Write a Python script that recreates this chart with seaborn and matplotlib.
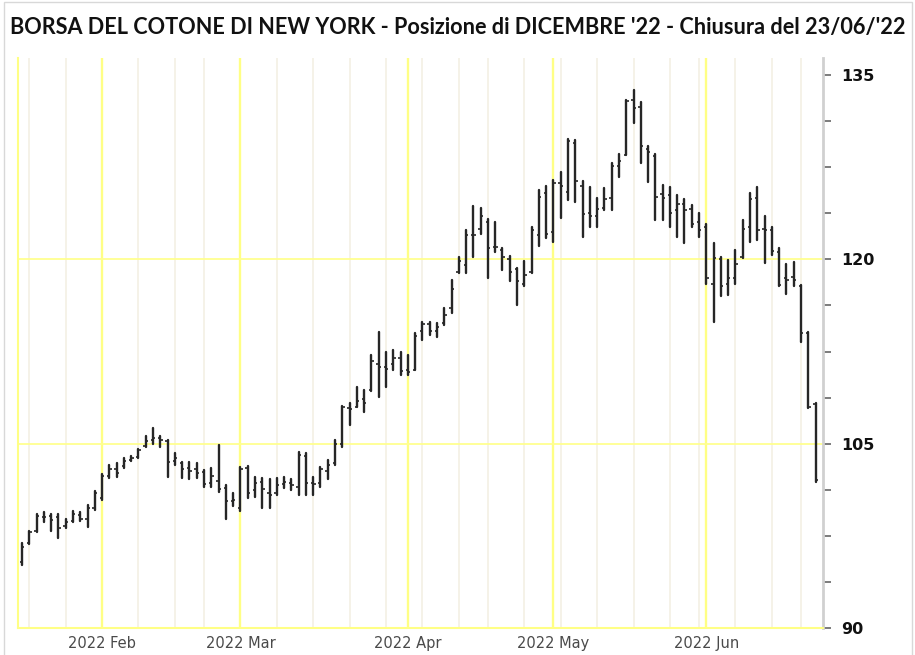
import numpy as np
import pandas as pd
import matplotlib
matplotlib.use("Agg")
import matplotlib.pyplot as plt
import seaborn as sns
from matplotlib.patches import Rectangle
from matplotlib.ticker import FixedLocator, MultipleLocator

# ---------------- data ----------------
dates = [
    "2022-01-14", "2022-01-18", "2022-01-19", "2022-01-20", "2022-01-21", "2022-01-24",
    "2022-01-25", "2022-01-26", "2022-01-27", "2022-01-28", "2022-01-31",
    "2022-02-01", "2022-02-02", "2022-02-03", "2022-02-04", "2022-02-07", "2022-02-08",
    "2022-02-09", "2022-02-10", "2022-02-11", "2022-02-14", "2022-02-15", "2022-02-16",
    "2022-02-17", "2022-02-18", "2022-02-22", "2022-02-23", "2022-02-24", "2022-02-25",
    "2022-02-28",
    "2022-03-01", "2022-03-02", "2022-03-03", "2022-03-04", "2022-03-07", "2022-03-08",
    "2022-03-09", "2022-03-10", "2022-03-11", "2022-03-14", "2022-03-15", "2022-03-16",
    "2022-03-17", "2022-03-18", "2022-03-21", "2022-03-22", "2022-03-23", "2022-03-24",
    "2022-03-25", "2022-03-28", "2022-03-29", "2022-03-30", "2022-03-31",
    "2022-04-01", "2022-04-04", "2022-04-05", "2022-04-06", "2022-04-07", "2022-04-08",
    "2022-04-11", "2022-04-12", "2022-04-13", "2022-04-14", "2022-04-18", "2022-04-19",
    "2022-04-20", "2022-04-21", "2022-04-22", "2022-04-25", "2022-04-26", "2022-04-27",
    "2022-04-28", "2022-04-29",
    "2022-05-02", "2022-05-03", "2022-05-04", "2022-05-05", "2022-05-06", "2022-05-09",
    "2022-05-10", "2022-05-11", "2022-05-12", "2022-05-13", "2022-05-16", "2022-05-17",
    "2022-05-18", "2022-05-19", "2022-05-20", "2022-05-23", "2022-05-24", "2022-05-25",
    "2022-05-26", "2022-05-27", "2022-05-31",
    "2022-06-01", "2022-06-02", "2022-06-03", "2022-06-06", "2022-06-07", "2022-06-08",
    "2022-06-09", "2022-06-10", "2022-06-13", "2022-06-14", "2022-06-15", "2022-06-16",
    "2022-06-17", "2022-06-21", "2022-06-22", "2022-06-23",
]

opens = [
    95.4, 96.9, 97.9, 99.0, 99.1, 99.0, 98.3, 98.7, 99.2, 98.9, 99.8,
    100.6, 102.4, 102.9, 103.2, 103.7, 103.9, 104.8, 105.3, 105.5, 105.2, 103.6, 103.4,
    103.0, 102.9, 102.7, 101.8, 102.0, 101.4, 100.3,
    99.8, 103.0, 101.2, 101.9, 101.0, 101.0, 101.7, 101.8, 101.5, 104.0, 101.8, 101.8,
    102.8, 103.4, 105.0, 107.9, 108.0, 108.6, 109.4, 111.5, 111.2, 111.5, 112.0,
    111.0, 111.0, 114.2, 114.7, 114.2, 114.8, 116.0, 119.0, 119.5, 122.0, 122.5, 123.0,
    121.0, 120.8, 120.0, 119.2, 118.0, 119.0, 122.0, 125.4,
    122.2, 126.2, 125.5, 129.5, 126.0, 123.8, 123.5, 124.2, 125.0, 127.6, 128.5, 133.0,
    132.4, 129.0, 128.4, 125.3, 125.2, 124.0, 124.5, 124.1, 123.0,
    122.6, 118.0, 120.0, 118.0, 118.5, 120.2, 122.6, 125.0, 122.5, 122.4, 120.6, 118.5,
    118.6, 117.8, 114.0, 108.2,
]

highs = [
    96.9, 97.9, 99.25, 99.4, 99.25, 99.25, 98.9, 99.5, 99.4, 100.0, 101.15,
    102.5, 103.25, 103.4, 103.85, 104.0, 104.6, 105.6, 106.3, 105.6, 105.3, 104.2, 103.5,
    103.5, 103.4, 102.85, 103.0, 104.9, 101.6, 101.0,
    103.1, 103.2, 102.3, 102.2, 102.1, 102.2, 102.3, 102.1, 104.3, 104.2, 102.3, 103.1,
    103.7, 105.3, 108.1, 108.3, 109.6, 109.4, 112.2, 114.1, 112.5, 112.6, 112.5,
    112.2, 114.0, 114.9, 114.9, 114.8, 116.0, 118.3, 120.2, 122.4, 124.3, 124.15, 123.3,
    123.0, 120.9, 120.3, 119.3, 119.9, 122.6, 125.65, 126.0,
    126.45, 127.1, 129.8, 129.7, 126.4, 125.9, 125.0, 125.8, 127.8, 128.6, 133.0, 133.8,
    132.8, 129.2, 128.6, 126.05, 125.9, 125.25, 124.95, 124.4, 123.75,
    122.9, 121.3, 120.2, 119.95, 120.75, 123.2, 125.4, 125.9, 123.5, 122.65, 120.9, 119.65,
    119.8, 117.9, 114.1, 108.3,
]

lows = [
    95.1, 96.8, 97.85, 98.6, 97.9, 97.3, 98.1, 98.65, 98.7, 98.25, 99.6,
    100.4, 102.2, 102.3, 103.0, 103.6, 103.8, 104.75, 105.0, 104.75, 102.3, 103.25, 102.2,
    102.1, 102.2, 101.5, 101.5, 101.1, 98.9, 99.9,
    99.5, 100.6, 100.7, 99.8, 99.8, 100.8, 101.4, 101.2, 100.8, 100.8, 100.8, 101.5,
    102.1, 103.25, 104.75, 106.5, 108.0, 107.6, 109.25, 108.8, 109.6, 111.0, 110.6,
    110.6, 111.0, 113.4, 113.85, 113.7, 114.65, 115.6, 118.9, 118.9, 120.2, 122.1, 118.5,
    120.6, 119.1, 118.2, 116.3, 117.8, 118.9, 121.1, 121.7,
    121.4, 123.4, 124.8, 124.7, 121.8, 122.6, 122.6, 124.0, 124.0, 126.7, 128.5, 131.1,
    127.8, 126.3, 123.2, 123.2, 122.65, 121.85, 121.3, 122.65, 121.85,
    118.0, 114.9, 117.0, 117.1, 118.0, 120.1, 121.45, 121.6, 119.7, 120.35, 117.8, 117.2,
    117.8, 113.3, 107.9, 101.9,
]

closes = [
    96.6, 97.8, 99.1, 99.05, 98.8, 98.1, 98.6, 99.3, 98.9, 99.8, 101.0,
    102.4, 102.9, 102.6, 103.6, 103.8, 104.5, 105.2, 105.5, 105.3, 103.5, 103.8, 102.9,
    102.8, 102.6, 101.7, 102.4, 101.3, 100.3, 100.4,
    102.9, 101.0, 101.8, 101.3, 100.8, 101.6, 101.9, 101.6, 104.1, 101.8, 101.7, 102.9,
    103.3, 105.0, 108.0, 107.8, 108.5, 108.3, 111.7, 111.2, 111.05, 112.0, 110.9,
    110.8, 113.8, 114.7, 114.2, 114.5, 115.5, 117.6, 119.9, 122.0, 122.0, 123.5, 120.9,
    121.0, 120.2, 119.0, 118.2, 118.7, 122.4, 125.1, 122.1,
    126.2, 126.0, 129.6, 126.4, 123.7, 123.5, 124.1, 124.9, 127.6, 128.0, 132.9, 132.3,
    129.2, 128.7, 125.1, 125.0, 123.75, 124.5, 124.0, 122.9, 122.4,
    118.45, 120.1, 117.8, 118.45, 119.65, 122.5, 124.9, 122.4, 122.4, 120.65, 117.9, 118.3,
    118.3, 114.0, 108.0, 102.05,
]

y_major = [90, 105, 120, 135]
month_names = {2: "Feb", 3: "Mar", 4: "Apr", 5: "May", 6: "Jun"}
title = "BORSA DEL COTONE DI NEW YORK - Posizione di DICEMBRE '22 - Chiusura del 23/06/'22"

# ---------------- frame ----------------
df = pd.DataFrame({"date": pd.to_datetime(dates), "open": opens, "high": highs,
                   "low": lows, "close": closes})
df["pos"] = np.arange(len(df))
long = df.melt(id_vars=["pos"], value_vars=["low", "high"], var_name="kind",
               value_name="price")

sns.set_theme(style="white")
plt.rcParams["font.family"] = ["DejaVu Sans"]

W, H = 915, 655
fig = plt.figure(figsize=(W / 100, H / 100), dpi=100)
fig.patch.set_facecolor("white")

ax_left, ax_right, ax_top, ax_bottom = 18, 823, 58, 628
ax = fig.add_axes([ax_left / W, (H - ax_bottom) / H, (ax_right - ax_left) / W,
                   (ax_bottom - ax_top) / H])
ax.set_facecolor("white")

px_per_bar = 7.28
x0_px = 22
ax.set_xlim((ax_left - x0_px) / px_per_bar, (ax_right - x0_px) / px_per_bar)
px_per_unit = (ax_bottom - 75) / 45.0
ax.set_ylim(90, 90 + (ax_bottom - ax_top) / px_per_unit)

# weekly light lines (Tuesdays) and month lines
month_first = df.groupby(df["date"].dt.month)["pos"].min()
month_first = month_first[month_first.index.isin(month_names.keys())]
for p, d in zip(df["pos"], df["date"]):
    if d.dayofweek == 1:
        ax.axvline(p, color="#f4f1e6", lw=1.3, zorder=0)
for m, p in month_first.items():
    ax.axvline(p, color="#ffff85", lw=1.7, zorder=1)
for yv in y_major[1:3]:
    ax.axhline(yv, color="#ffff90", lw=1.3, zorder=1)

# OHLC bars: high-low via seaborn, open/close ticks
bar_col = "#262626"
sns.lineplot(data=long, x="pos", y="price", units="pos", estimator=None,
             color=bar_col, lw=1.7, ax=ax, legend=False, sort=False, zorder=3)
tick = 0.32
ax.hlines(df["open"], df["pos"] - tick, df["pos"], color=bar_col, lw=1.2, zorder=3)
ax.hlines(df["close"], df["pos"], df["pos"] + tick, color=bar_col, lw=1.2, zorder=3)

ax.set_xlabel("")
ax.set_ylabel("")

# axes / spines
ax.spines["top"].set_visible(False)
ax.spines["left"].set_color("#ffff85")
ax.spines["left"].set_linewidth(1.5)
ax.spines["bottom"].set_color("#ffff85")
ax.spines["bottom"].set_linewidth(1.5)
ax.spines["right"].set_color("#d0d0d0")
ax.spines["right"].set_linewidth(2)

ax.yaxis.tick_right()
ax.yaxis.set_major_locator(FixedLocator(y_major))
ax.yaxis.set_minor_locator(MultipleLocator(3.75))
ax.set_yticklabels([str(v) for v in y_major], fontweight="bold", fontsize=11.5,
                   color="#111111")
ax.tick_params(axis="y", which="both", right=True, left=False, length=6, width=1.2,
               color="#666666", pad=7, direction="out")

ax.set_xticks(list(month_first.values))
ax.set_xticklabels([f"2022 {month_names[m]}" for m in month_first.index],
                   fontsize=10.5, color="#4a4a4a")
ax.tick_params(axis="x", which="both", length=0, pad=6, bottom=False)
ax.grid(False)

# title, fitted to the reference width
t = fig.text(10 / W, (H - 34) / H, title, fontfamily=["Lato", "DejaVu Sans"],
             fontweight="bold", fontsize=15, ha="left", va="baseline", color="#111111")
fig.canvas.draw()
bb = t.get_window_extent()
t.set_fontsize(15 * (895 / bb.width))

# thin outer frame
fig.patches.append(Rectangle((4 / W, -0.01), (912 - 4) / W, 0.01 + (H - 2) / H,
                             transform=fig.transFigure, fill=False,
                             edgecolor="#d8d8d8", lw=1.0))

fig.savefig("out.png", dpi=100)
